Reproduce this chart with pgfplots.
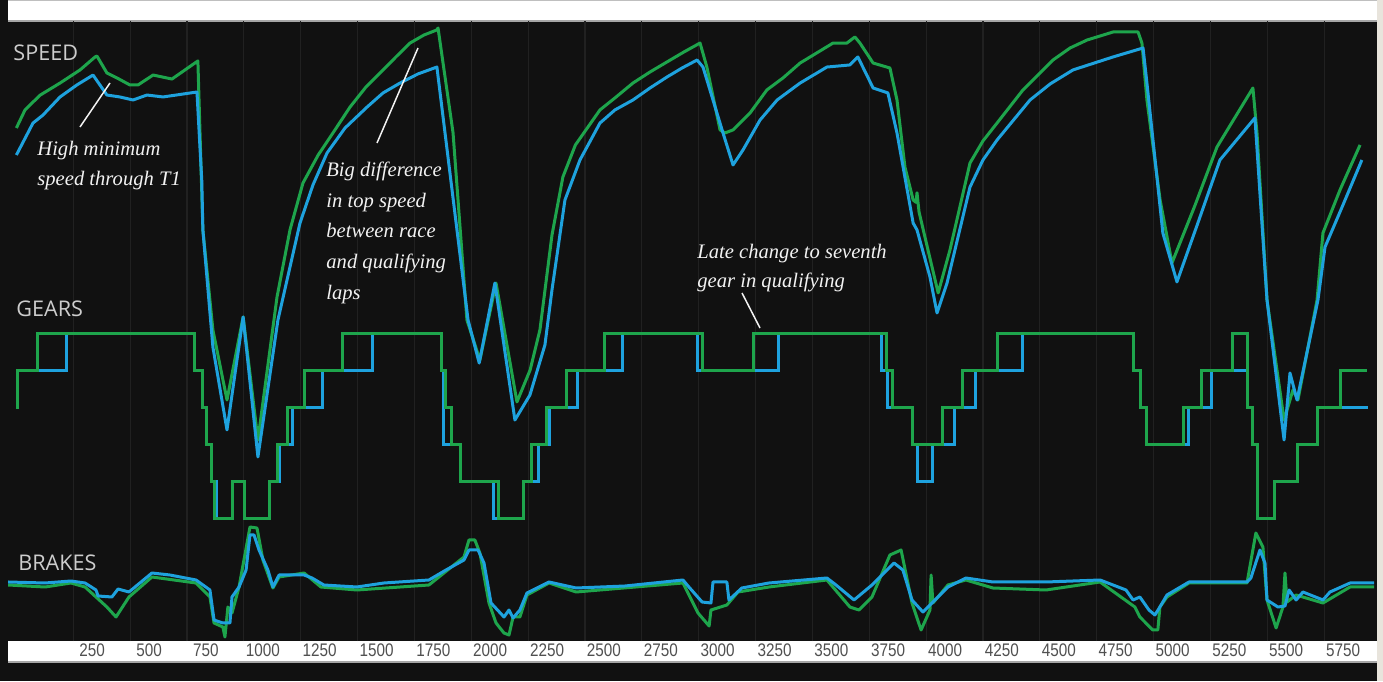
\documentclass[border=0pt]{standalone}
\usepackage{fontspec}
\setmainfont{Liberation Serif}
\newfontfamily\headfont{Open Sans}
\newfontfamily\tickfont{Liberation Sans}[FakeStretch=0.84]
\usepackage{pgfplots}
\pgfplotsset{compat=1.18}
\definecolor{bg}{RGB}{17,17,17}
\definecolor{gridc}{RGB}{33,33,33}
\definecolor{qgreen}{RGB}{30,165,76}
\definecolor{rblue}{RGB}{30,162,222}
\definecolor{headc}{RGB}{205,205,205}
\definecolor{tickc}{RGB}{80,80,80}
\definecolor{beige}{RGB}{232,228,220}
\definecolor{annc}{RGB}{242,242,242}
\begin{document}
\begin{tikzpicture}
\fill[bg] (0,0) rectangle (691.5pt,340.5pt);
\fill[white] (4pt,330pt) rectangle (688.5pt,340.5pt);
\draw[gray!70, line width=0.6pt] (4pt,330pt) -- (688.5pt,330pt);
\draw[gray!50, line width=0.6pt] (4pt,340.2pt) -- (688.5pt,340.2pt);
\fill[white] (4pt,9.5pt) rectangle (688.5pt,20pt);
\draw[gray!70, line width=0.6pt] (4pt,9.5pt) -- (688.5pt,9.5pt);
\fill[beige] (688.5pt,0) rectangle (691.5pt,340.5pt);

\pgfplotsset{panel/.style={scale only axis, width=684.5pt, height=310pt,
  at={(4pt,20pt)}, anchor=south west, xmin=-36.9, xmax=5982.6,
  axis line style={draw=none}, major tick length=0pt}}

% grid and distance labels
\begin{axis}[panel, ymin=0, ymax=1, xtick={250,500,...,5750}, ytick=\empty,
  xmajorgrids, grid style={gridc, line width=0.6pt},
  xticklabel style={font=\tickfont\fontsize{9.1}{10}\selectfont, text=tickc, anchor=base, xshift=9.5pt, yshift=-7.5pt},
  /pgf/number format/assume math mode=true,
  /pgf/number format/set thousands separator={}]
\end{axis}

% SPEED (km/h)
\begin{axis}[panel, ymin=-43.125, ymax=344.375, xtick=\empty, ytick=\empty]
\addplot[qgreen, line width=1.5pt, line join=round] coordinates {
(0,277.5) (38,288.8) (104,298) (192,305.6) (280,313.8) (346,321.9) (354,322.5) (398,311.9) (442,308.8) (499,304.4) (535,304.4) (601,310.6) (684,308.1) (798,319.4) (820,213.8) (864,151.3) (926,107.5) (997,159.4) (1062,82.5) (1146,171.9) (1203,213.8) (1260,243.1) (1327,260.6) (1392,274.4) (1467,290.6) (1537,303.1) (1612,313.8) (1673,322.5) (1731,330.6) (1792,335.6) (1849,338.8) (1854,340) (1920,274.4) (1981,157.5) (2038,132.5) (2109,180.6) (2201,106.3) (2259,126.3) (2302,151.3) (2355,210.6) (2403,246.9) (2458,266.9) (2566,288.8) (2632,296.3) (2711,305.6) (2786,312.5) (2861,318.8) (2935,325) (3006,330.6) (3036,315.6) (3094,276.3) (3116,274.4) (3151,276.3) (3226,286.9) (3300,301.3) (3371,308.8) (3446,318.1) (3591,330.6) (3652,330.6) (3687,334.4) (3709,330.6) (3767,318.1) (3841,315) (3872,295) (3907,253.1) (3943,232.5) (3956,231) (3960,237) (3969,225) (4053,174.4) (4105,201.3) (4193,255.6) (4250,269.4) (4312,280.6) (4426,301.3) (4558,320) (4633,327.5) (4708,332.5) (4822,337.5) (4932,337.5) (4949,330.6) (4971,295) (5029,232.5) (5081,193.1) (5183,229.4) (5279,265.6) (5437,302.5) (5455,274.4) (5499,170) (5574,95) (5613,113.8) (5635,107.5) (5719,170) (5745,211.9) (5820,238.8) (5908,266.9)
};
\addplot[rblue, line width=1.5pt, line join=round] coordinates {
(0,260.6) (73,280.6) (117,285.6) (192,296.9) (266,304.4) (337,310.6) (398,298.1) (455,296.9) (513,295) (574,298.1) (645,296.9) (794,300) (815,245) (820,213.8) (864,140.6) (926,88.8) (997,159.4) (1062,71.9) (1150,157.5) (1247,218.1) (1304,241.9) (1366,261.9) (1445,277.5) (1542,290.6) (1612,299.4) (1687,305.6) (1766,311.3) (1849,315.6) (1986,157.5) (2035,130.6) (2104,180.6) (2192,95) (2258,110.6) (2324,141.9) (2355,176.3) (2412,232.5) (2478,257.5) (2566,280.6) (2632,288.8) (2711,295) (2786,302.5) (2861,309.4) (2927,315) (2993,320) (3019,315.6) (3063,295) (3107,274.4) (3151,254.4) (3195,263.8) (3270,282.5) (3345,295) (3446,305.6) (3564,315.6) (3665,316.9) (3700,321.9) (3767,302.5) (3832,299.4) (3872,274.4) (3943,218.1) (3960,213.8) (4017,184.4) (4048,161.9) (4092,180.6) (4193,240.6) (4250,257.5) (4312,270) (4457,295) (4545,305) (4646,313.8) (4822,321.9) (4954,327.5) (4971,305.6) (5041,211.9) (5103,181.3) (5192,216.9) (5292,257.5) (5446,283.8) (5499,170) (5574,82.5) (5600,124.4) (5631,107.5) (5723,170) (5754,203.1) (5833,229.4) (5916,257.5)
};
\end{axis}

% GEARS
\begin{axis}[panel, ymin=-1.2973, ymax=15.4595, xtick=\empty, ytick=\empty]
\addplot[rblue, line width=1.5pt, const plot mark left] coordinates {
(0,5) (5,6) (222,7) (785,6) (820,5) (838,4) (856,3) (880,2) (952,3) (1005,2) (1115,3) (1159,4) (1216,5) (1348,6) (1564,7) (1871,6) (1876,5) (1880,4) (1951,3) (2096,2) (2228,3) (2294,4) (2346,5) (2469,6) (2667,7) (2993,6) (3349,7) (3806,6) (3832,5) (3938,4) (3964,3) (4030,4) (4127,5) (4215,6) (4422,7) (4910,6) (4941,5) (4971,4) (5152,5) (5257,6) (5411,5) (5433,4) (5459,2) (5534,3) (5635,4) (5723,5) (5943,5)
};
\addplot[qgreen, line width=1.5pt, const plot mark left] coordinates {
(0,5) (5,6) (95,7) (785,6) (820,5) (838,4) (856,3) (873,2) (952,3) (1005,2) (1115,3) (1146,4) (1190,5) (1269,6) (1432,7) (1871,6) (1885,5) (1915,4) (1951,3) (2118,2) (2228,3) (2267,4) (2333,5) (2421,6) (2588,7) (3019,6) (3239,7) (3828,6) (3854,5) (3938,4) (4074,5) (4162,6) (4316,7) (4910,6) (4941,5) (4971,4) (5130,5) (5213,6) (5349,7) (5411,5) (5433,4) (5459,2) (5534,3) (5635,4) (5723,5) (5820,6) (5939,6)
};
\end{axis}

% BRAKES
\begin{axis}[panel, ymin=-1, ymax=619, xtick=\empty, ytick=\empty]
\addplot[qgreen, line width=1.5pt, line join=round] coordinates {
(-36,55) (126,53) (240,57) (302,53) (350,43) (398,33) (438,23) (495,43) (596,63) (790,57) (851,43) (869,17) (908,13) (917,3) (930,33) (948,27) (979,53) (1027,113) (1058,112) (1084,80) (1128,52) (1155,63) (1265,67) (1339,53) (1497,50) (1814,55) (1968,83) (1990,100) (2016,100) (2038,87) (2078,37) (2109,17) (2144,7) (2166,5) (2184,23) (2214,23) (2245,45) (2342,57) (2461,48) (2931,57) (2997,27) (3046,14) (3054,30) (3124,35) (3173,48) (3309,53) (3564,60) (3665,33) (3705,30) (3762,43) (3841,85) (3890,90) (3938,37) (3978,10) (4017,30) (4022,65) (4030,37) (4096,55) (4175,60) (4294,52) (4527,50) (4765,58) (4918,33) (4940,23) (4997,10) (5019,10) (5028,33) (5059,43) (5156,57) (5411,57) (5450,107) (5481,93) (5499,40) (5539,12) (5569,33) (5578,67) (5587,38) (5627,45) (5745,37) (5864,53) (5970,53)
};
\addplot[rblue, line width=1.5pt, line join=round] coordinates {
(-36,58) (126,57) (240,59) (302,57) (350,50) (359,44) (420,43) (447,51) (495,48) (596,67) (675,65) (790,60) (851,50) (869,20) (908,17) (939,17) (948,43) (979,53) (1010,70) (1027,105) (1045,105) (1067,90) (1106,70) (1128,53) (1155,65) (1265,65) (1300,62) (1352,55) (1497,53) (1616,57) (1814,60) (1889,70) (1968,80) (1990,90) (2030,90) (2056,77) (2087,37) (2144,23) (2166,30) (2184,22) (2214,30) (2245,47) (2342,58) (2461,52) (2676,54) (2931,60) (2957,53) (3015,38) (3054,37) (3063,58) (3124,58) (3133,40) (3190,52) (3309,57) (3564,62) (3604,55) (3683,40) (3762,55) (3859,77) (3898,70) (3938,40) (3986,28) (4026,37) (4096,53) (4175,62) (4294,58) (4527,58) (4765,60) (4879,50) (4910,40) (4940,43) (4980,30) (5006,25) (5028,33) (5059,45) (5156,58) (5411,58) (5428,62) (5468,90) (5490,77) (5499,40) (5547,33) (5578,34) (5596,50) (5627,40) (5657,48) (5745,40) (5776,48) (5864,57) (5970,57)
};
\end{axis}

% section headings
\node[anchor=base west, inner sep=0, text=headc, font=\headfont\fontsize{10.8}{12}\selectfont] at (6.5pt,310pt) {SPEED};
\node[anchor=base west, inner sep=0, text=headc, font=\headfont\fontsize{10.8}{12}\selectfont] at (8pt,182pt) {GEARS};
\node[anchor=base west, inner sep=0, text=headc, font=\headfont\fontsize{10.8}{12}\selectfont] at (9pt,55.5pt) {BRAKES};

% annotations
\begin{scope}[every node/.style={anchor=base west, inner sep=0, text=annc, font=\itshape\fontsize{10.3}{12}\selectfont}]
\node at (18.5pt,262.65pt) {High minimum};
\node at (18.5pt,247.65pt) {speed through T1};
\node at (163pt,252.15pt) {Big difference};
\node at (163pt,236.8pt) {in top speed};
\node at (163pt,221.5pt) {between race};
\node at (163pt,206.15pt) {and qualifying};
\node at (163pt,190.8pt) {laps};
\node at (348.5pt,211.35pt) {Late change to seventh};
\node at (348.5pt,196.5pt) {gear in qualifying};
\end{scope}
\draw[annc, line width=0.75pt] (40pt,277pt) -- (55pt,299pt);
\draw[annc, line width=0.75pt] (188.5pt,269pt) -- (209pt,316.5pt);
\draw[annc, line width=0.75pt] (371pt,194pt) -- (380pt,176.5pt);
\end{tikzpicture}
\end{document}
